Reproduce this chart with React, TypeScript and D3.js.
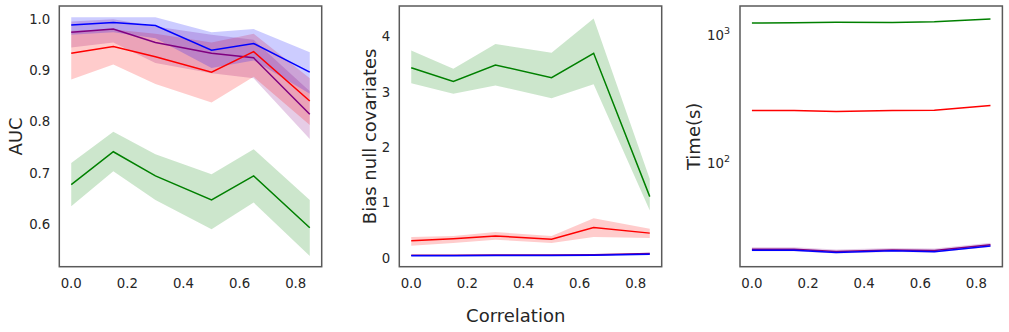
import * as d3 from 'd3'

const CORR = [0, 0.15, 0.3, 0.5, 0.65, 0.85]

// AUC panel
const aucGreen = [0.678, 0.742, 0.695, 0.648, 0.695, 0.594]
const aucGreenLo = [0.636, 0.704, 0.648, 0.591, 0.643, 0.539]
const aucGreenHi = [0.72, 0.781, 0.737, 0.698, 0.747, 0.648]
const aucRed = [0.934, 0.947, 0.927, 0.897, 0.937, 0.841]
const aucRedLo = [0.883, 0.912, 0.874, 0.838, 0.888, 0.794]
const aucRedHi = [0.978, 0.98, 0.972, 0.955, 0.972, 0.885]
const aucPurple = [0.975, 0.981, 0.955, 0.934, 0.925, 0.815]
const aucPurpleLo = [0.945, 0.955, 0.915, 0.895, 0.885, 0.767]
const aucPurpleHi = [0.996, 1.0, 0.986, 0.97, 0.96, 0.86]
const aucBlue = [0.989, 0.994, 0.988, 0.94, 0.953, 0.897]
const aucBlueLo = [0.97, 0.975, 0.963, 0.905, 0.92, 0.855]
const aucBlueHi = [1.004, 1.004, 1.004, 0.975, 0.981, 0.936]

// Bias panel
const biasGreen = [3.44, 3.19, 3.49, 3.26, 3.7, 1.11]
const biasGreenLo = [3.16, 2.97, 3.12, 2.89, 3.14, 0.86]
const biasGreenHi = [3.75, 3.42, 3.87, 3.71, 4.33, 1.43]
const biasRed = [0.31, 0.35, 0.4, 0.34, 0.55, 0.45]
const biasRedLo = [0.22, 0.27, 0.33, 0.27, 0.38, 0.36]
const biasRedHi = [0.38, 0.4, 0.47, 0.4, 0.72, 0.53]
const biasPurple = [0.05, 0.05, 0.055, 0.055, 0.06, 0.08]
const biasPurpleLo = [0.04, 0.04, 0.045, 0.045, 0.05, 0.065]
const biasPurpleHi = [0.06, 0.06, 0.065, 0.065, 0.07, 0.095]
const biasBlue = [0.04, 0.04, 0.045, 0.045, 0.05, 0.07]
const biasBlueLo = [0.035, 0.035, 0.04, 0.04, 0.045, 0.06]
const biasBlueHi = [0.045, 0.045, 0.05, 0.05, 0.055, 0.08]

// Time panel (seconds)
const timeGreen = [1154, 1160, 1170, 1165, 1182, 1240]
const timeRed = [241, 241, 236.6, 240, 242, 263]
const timePurple = [20.0, 20.0, 19.2, 19.7, 19.5, 21.6]
const timePurpleLo = [19.3, 19.3, 18.5, 19.0, 18.8, 20.8]
const timePurpleHi = [20.7, 20.7, 19.9, 20.4, 20.2, 22.4]
const timeBlue = [19.6, 19.6, 18.8, 19.4, 19.1, 21.2]

const X_TICKS = [0, 0.2, 0.4, 0.6, 0.8]
const AUC_TICKS = [0.6, 0.7, 0.8, 0.9, 1.0]
const AUC_TICK_LABELS = ['0.6', '0.7', '0.8', '0.9', '1.0']
const BIAS_TICKS = [0, 1, 2, 3, 4]
const BIAS_TICK_LABELS = ['0', '1', '2', '3', '4']
const TIME_TICKS = [100, 1000]

const TOP = 6
const BOTTOM = 266.7
const PW = 262.4
const FONT = 'DejaVu Sans, sans-serif'
const TEXT = '#262626'
const TICK_FS = 13.3

type Series = { color: string; y: number[]; lo?: number[]; hi?: number[] }

function Panel({ left, yScale, series, yTicks, yTickLabels, label, labelX, logTicks }: {
  left: number
  yScale: any
  series: Series[]
  yTicks: number[]
  yTickLabels?: string[]
  label: string
  labelX: number
  logTicks?: boolean
}) {
  const x = d3.scaleLinear().domain([-0.0425, 0.8925]).range([left, left + PW])
  const line = d3.line<number>().x((_, i) => x(CORR[i])).y(v => yScale(v))
  const band = (lo: number[], hi: number[]) =>
    d3.area<number>()
      .x((_, i) => x(CORR[i]))
      .y0((_, i) => yScale(lo[i]))
      .y1((_, i) => yScale(hi[i]))(CORR)
  const clipId = `clip-${Math.round(left)}`
  return (
    <g>
      <clipPath id={clipId}>
        <rect x={left} y={TOP} width={PW} height={BOTTOM - TOP} />
      </clipPath>
      <g clipPath={`url(#${clipId})`}>
        {series.map((s, i) =>
          s.lo && s.hi ? (
            <path key={'b' + i} d={band(s.lo, s.hi) || ''} fill={s.color} fillOpacity={0.2} stroke="none" />
          ) : null
        )}
        {series.map((s, i) => (
          <path key={'l' + i} d={line(s.y) || ''} fill="none" stroke={s.color} strokeWidth={1.5} />
        ))}
      </g>
      <rect x={left} y={TOP} width={PW} height={BOTTOM - TOP} fill="none" stroke="#5a5a5a" strokeWidth={1.5} />
      {X_TICKS.map(t => (
        <text key={t} x={x(t)} y={287.5} fontSize={TICK_FS} fill={TEXT} textAnchor="middle" fontFamily={FONT}>
          {t.toFixed(1)}
        </text>
      ))}
      {yTicks.map((t, i) =>
        logTicks ? (
          <text key={t} x={left - 10} y={yScale(t) + 8.5} fontSize={TICK_FS} fill={TEXT} textAnchor="end" fontFamily={FONT}>
            10<tspan fontSize={9.5} dy={-6}>{Math.round(Math.log10(t))}</tspan>
          </text>
        ) : (
          <text key={t} x={left - 9} y={yScale(t)} fontSize={TICK_FS} fill={TEXT} textAnchor="end"
            dominantBaseline="central" fontFamily={FONT}>
            {yTickLabels ? yTickLabels[i] : String(t)}
          </text>
        )
      )}
      <text transform={`translate(${labelX},${(TOP + BOTTOM) / 2}) rotate(-90)`} textAnchor="middle"
        dominantBaseline="central" fontSize={18} fill={TEXT} fontFamily={FONT}>
        {label}
      </text>
    </g>
  )
}

export default function App() {
  const yAuc = d3.scaleLinear().domain([0.518, 1.026]).range([BOTTOM, TOP])
  const yBias = d3.scaleLinear().domain([-0.157, 4.556]).range([BOTTOM, TOP])
  const yTime = d3.scaleLog().domain([14.6, 1567]).range([BOTTOM, TOP])

  return (
    <svg width={1009} height={332} style={{ position: 'absolute', left: 0, top: 0, background: '#fff' }}>
      <Panel left={59.3} yScale={yAuc} yTicks={AUC_TICKS} yTickLabels={AUC_TICK_LABELS} label="AUC" labelX={15.7}
        series={[
          { color: 'green', y: aucGreen, lo: aucGreenLo, hi: aucGreenHi },
          { color: 'purple', y: aucPurple, lo: aucPurpleLo, hi: aucPurpleHi },
          { color: 'red', y: aucRed, lo: aucRedLo, hi: aucRedHi },
          { color: 'blue', y: aucBlue, lo: aucBlueLo, hi: aucBlueHi },
        ]} />
      <Panel left={399.3} yScale={yBias} yTicks={BIAS_TICKS} yTickLabels={BIAS_TICK_LABELS}
        label="Bias null covariates" labelX={369}
        series={[
          { color: 'green', y: biasGreen, lo: biasGreenLo, hi: biasGreenHi },
          { color: 'purple', y: biasPurple, lo: biasPurpleLo, hi: biasPurpleHi },
          { color: 'red', y: biasRed, lo: biasRedLo, hi: biasRedHi },
          { color: 'blue', y: biasBlue, lo: biasBlueLo, hi: biasBlueHi },
        ]} />
      <Panel left={740} yScale={yTime} yTicks={TIME_TICKS} label="Time(s)" labelX={693} logTicks
        series={[
          { color: 'green', y: timeGreen },
          { color: 'purple', y: timePurple, lo: timePurpleLo, hi: timePurpleHi },
          { color: 'red', y: timeRed },
          { color: 'blue', y: timeBlue },
        ]} />
      <text x={515.7} y={315} textAnchor="middle" dominantBaseline="central" fontSize={18} fill={TEXT} fontFamily={FONT}>
        Correlation
      </text>
    </svg>
  )
}
